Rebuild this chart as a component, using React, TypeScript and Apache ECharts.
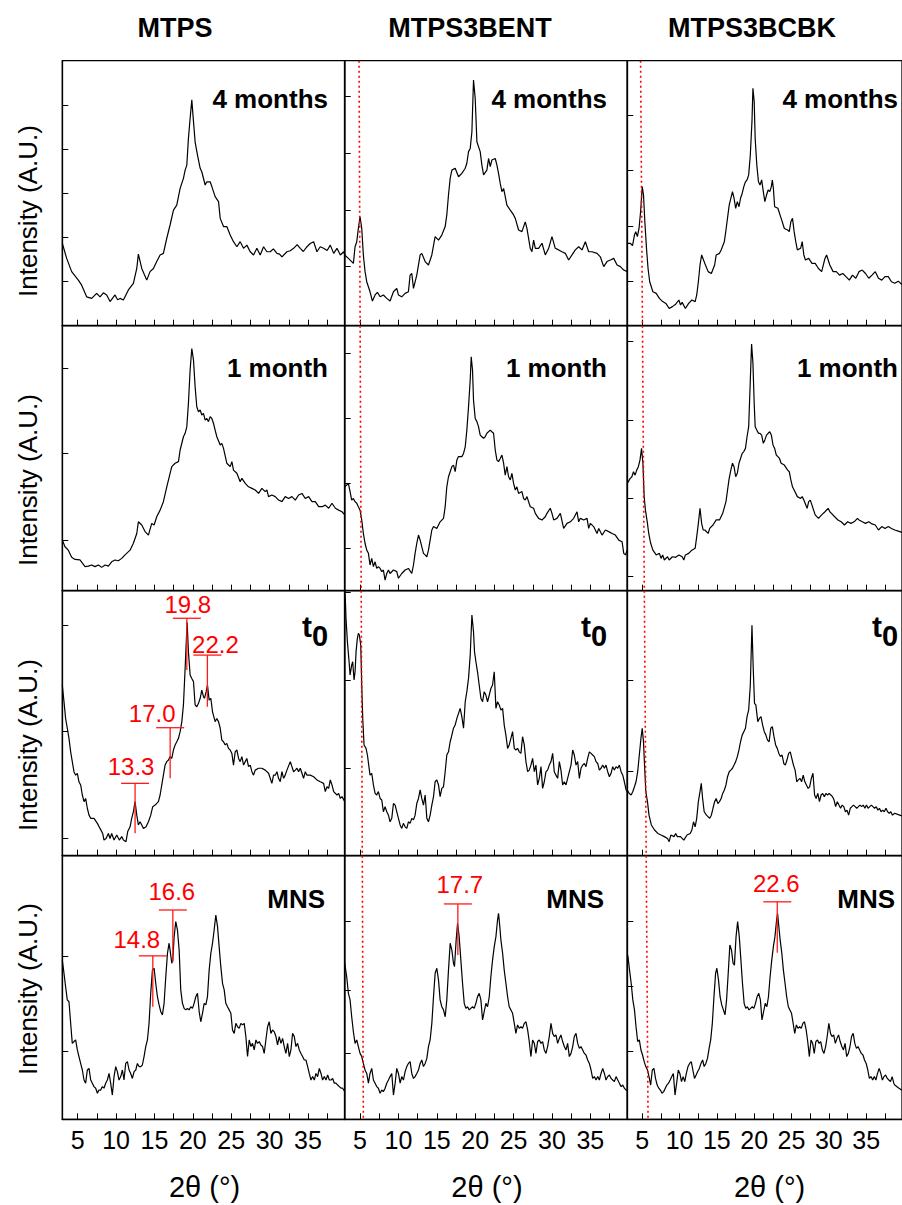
import React, { useEffect, useRef } from "react";
import * as echarts from "echarts";

type Pt = [number, number];

// ---------- texts / ticks ----------
const columnTitles = ["MTPS", "MTPS3BENT", "MTPS3BCBK"];
const rowLabels = ["4 months", "1 month", "t0", "MNS"];
const yAxisTitle = "Intensity (A.U.)";
const xAxisTitle = "2θ (°)";
const xTickLabels = [5, 10, 15, 20, 25, 30, 35];
const xTickMarks = [5, 7.5, 10, 12.5, 15, 17.5, 20, 22.5, 25, 27.5, 30, 32.5, 35, 37.5];
const xMin = 3;
const xMax = 39.8;
const yMin = 0;
const yMax = 100;

// ---------- MTPS ----------
const mtps4m: Pt[] = [
  [3.0, 31.1], [3.57, 25.4], [4.22, 20.4], [5.09, 17.2], [5.52, 15.3], [6.17, 10.9], [6.83, 10.3], [7.48, 12.2], [7.91, 10.9], [8.35, 12.4], [8.78, 11.6], [9.22, 9.1], [9.87, 11.6], [10.2, 9.8], [10.52, 10.3], [10.96, 9.7], [11.61, 13.5], [12.26, 16.0], [12.7, 21.6], [12.91, 27.0], [13.35, 21.6], [14.0, 17.2], [14.43, 20.4], [14.87, 21.6], [15.3, 24.2], [15.74, 26.7], [16.17, 27.3], [16.61, 33.0], [17.04, 38.0], [17.48, 43.6], [17.91, 45.5], [18.35, 51.8], [18.78, 55.6], [19.0, 58.7], [19.22, 60.6], [19.43, 70.7], [19.65, 78.2], [19.87, 85.2], [20.09, 77.0], [20.3, 69.4], [20.61, 64.4], [20.96, 59.4], [21.17, 58.1], [21.61, 53.1], [21.83, 54.3], [22.26, 54.3], [22.48, 52.5], [22.91, 48.7], [23.35, 46.8], [23.57, 40.5], [24.0, 37.4], [24.43, 37.4], [24.87, 34.2], [25.3, 31.7], [25.74, 29.8], [26.17, 31.7], [26.61, 29.2], [27.04, 30.4], [27.48, 27.9], [27.91, 26.7], [28.35, 29.2], [28.78, 26.7], [29.22, 29.8], [29.65, 27.9], [30.09, 27.9], [30.5, 29.0], [30.96, 27.3], [31.3, 27.0], [31.61, 26.0], [32.26, 27.9], [32.7, 28.3], [33.13, 29.2], [33.6, 30.6], [34.0, 29.2], [34.4, 28.0], [34.87, 29.8], [35.3, 31.0], [35.74, 31.7], [36.17, 27.9], [36.6, 29.8], [37.04, 29.2], [37.5, 28.4], [37.91, 30.4], [38.35, 27.3], [38.78, 29.2], [39.22, 26.7], [39.65, 27.9], [39.8, 26.7],
];
const mtps1m: Pt[] = [
  [3.0, 19.1], [3.35, 16.6], [3.78, 15.3], [4.22, 12.6], [4.65, 11.8], [5.3, 11.6], [5.96, 9.1], [6.39, 9.3], [6.83, 9.7], [7.26, 9.1], [7.7, 9.7], [8.13, 8.8], [8.57, 9.7], [9.0, 9.3], [9.43, 10.9], [9.87, 11.6], [10.3, 11.3], [10.74, 12.2], [11.17, 13.5], [11.83, 15.3], [12.26, 17.9], [12.7, 21.6], [12.91, 26.0], [13.35, 24.8], [13.78, 22.3], [14.22, 21.0], [14.65, 25.4], [14.96, 24.8], [15.3, 27.9], [15.74, 30.4], [16.17, 33.6], [16.61, 39.2], [17.04, 44.3], [17.26, 46.8], [17.7, 48.1], [18.13, 48.7], [18.35, 53.1], [18.78, 58.1], [19.0, 59.4], [19.22, 61.9], [19.43, 70.7], [19.65, 83.3], [19.87, 91.4], [20.09, 87.0], [20.3, 77.0], [20.52, 69.4], [20.74, 67.5], [20.96, 68.2], [21.17, 66.3], [21.39, 66.9], [21.61, 64.4], [21.83, 65.0], [22.04, 63.8], [22.26, 65.7], [22.48, 65.0], [22.7, 63.1], [22.91, 60.6], [23.13, 58.1], [23.57, 55.0], [23.78, 55.6], [24.0, 53.7], [24.43, 48.1], [24.87, 46.8], [25.09, 48.7], [25.3, 45.5], [25.74, 44.3], [26.17, 41.1], [26.39, 42.4], [26.83, 40.5], [27.26, 39.2], [27.7, 38.6], [28.13, 38.0], [28.57, 36.7], [29.0, 38.6], [29.43, 37.4], [29.65, 38.0], [29.87, 35.5], [30.3, 36.1], [30.74, 35.5], [31.17, 34.2], [31.61, 33.6], [32.04, 35.5], [32.48, 34.8], [32.91, 35.5], [33.35, 34.2], [33.78, 36.1], [34.22, 36.7], [34.65, 34.8], [35.09, 35.5], [35.52, 33.6], [35.96, 33.6], [36.39, 31.7], [36.83, 31.7], [37.26, 32.3], [37.7, 31.1], [38.13, 33.0], [38.57, 31.1], [39.0, 30.4], [39.43, 29.8], [39.8, 28.6],
];
const mtpsT0: Pt[] = [
  [3.0, 64.4], [3.22, 58.1], [3.43, 51.8], [3.65, 48.1], [3.87, 44.3], [4.09, 39.2], [4.3, 35.5], [4.52, 31.7], [4.74, 30.4], [4.96, 31.1], [5.17, 27.9], [5.39, 26.7], [5.61, 22.9], [5.83, 20.4], [6.04, 21.6], [6.26, 17.9], [6.48, 15.3], [6.7, 14.1], [7.13, 14.1], [7.57, 12.2], [7.91, 10.3], [8.26, 8.4], [8.43, 5.9], [8.7, 6.5], [9.0, 8.4], [9.22, 6.5], [9.43, 8.4], [9.74, 5.9], [10.09, 7.8], [10.43, 5.9], [10.74, 7.2], [10.96, 5.9], [11.3, 5.3], [11.52, 9.1], [11.83, 10.9], [12.04, 14.1], [12.26, 16.6], [12.48, 20.4], [12.7, 15.3], [12.91, 11.6], [13.13, 12.8], [13.35, 11.6], [13.57, 10.3], [13.91, 10.9], [14.22, 12.8], [14.52, 15.3], [14.78, 18.5], [15.09, 19.1], [15.52, 20.4], [15.74, 22.9], [15.96, 26.7], [16.17, 30.4], [16.39, 34.2], [16.61, 35.5], [16.83, 36.1], [17.04, 37.4], [17.26, 36.7], [17.48, 39.9], [17.7, 41.8], [17.91, 43.0], [18.13, 44.3], [18.35, 46.8], [18.57, 50.6], [18.78, 56.9], [19.0, 70.7], [19.13, 79.5], [19.26, 88.1], [19.43, 77.0], [19.65, 68.2], [19.87, 66.9], [20.09, 65.7], [20.3, 56.9], [20.52, 56.2], [20.74, 57.5], [20.96, 59.4], [21.17, 62.5], [21.39, 60.0], [21.52, 59.4], [21.74, 61.9], [21.91, 64.4], [22.13, 58.7], [22.35, 59.4], [22.57, 54.3], [22.91, 50.6], [23.13, 51.8], [23.35, 50.6], [23.57, 48.1], [23.78, 43.6], [24.0, 43.0], [24.22, 41.8], [24.43, 42.4], [24.65, 40.5], [24.87, 39.9], [25.09, 38.6], [25.3, 34.2], [25.52, 39.2], [25.74, 39.9], [25.96, 36.7], [26.17, 35.5], [26.39, 37.4], [26.61, 34.2], [26.83, 35.5], [27.04, 36.7], [27.26, 33.6], [27.48, 34.2], [27.7, 31.7], [27.91, 30.4], [28.13, 32.3], [28.57, 33.0], [29.0, 33.0], [29.43, 32.3], [29.87, 31.1], [30.3, 27.3], [30.52, 30.4], [30.74, 30.4], [30.96, 31.7], [31.17, 29.2], [31.39, 27.9], [31.61, 31.7], [31.83, 29.2], [32.04, 30.4], [32.26, 32.3], [32.7, 35.5], [32.91, 33.6], [33.13, 31.7], [33.35, 32.3], [33.57, 33.0], [33.78, 31.7], [34.0, 33.0], [34.22, 31.1], [34.43, 29.2], [34.65, 31.7], [34.87, 30.4], [35.3, 30.4], [35.74, 29.8], [36.17, 28.6], [36.61, 27.9], [37.04, 27.3], [37.26, 24.2], [37.48, 26.0], [37.7, 25.4], [37.91, 28.6], [38.13, 26.7], [38.35, 24.2], [38.78, 22.9], [39.0, 23.5], [39.22, 21.6], [39.43, 22.3], [39.8, 20.4],
];
const mtpsMns: Pt[] = [
  [3.0, 60.4], [3.22, 55.4], [3.43, 50.3], [3.65, 45.3], [3.87, 44.6], [4.09, 36.4], [4.3, 28.8], [4.52, 29.5], [4.74, 30.1], [4.96, 26.3], [5.17, 23.8], [5.39, 21.2], [5.61, 18.7], [5.83, 14.9], [6.04, 13.7], [6.26, 18.7], [6.48, 19.3], [6.7, 14.9], [6.91, 13.7], [7.13, 12.4], [7.35, 11.8], [7.57, 9.9], [7.78, 11.1], [8.0, 11.1], [8.22, 12.4], [8.43, 11.8], [8.65, 13.7], [8.87, 14.9], [9.09, 17.4], [9.3, 13.7], [9.52, 9.2], [9.74, 16.2], [9.96, 20.0], [10.17, 18.1], [10.39, 14.9], [10.61, 16.2], [10.83, 18.7], [11.04, 14.9], [11.26, 21.2], [11.48, 21.9], [11.7, 18.7], [11.91, 17.4], [12.13, 15.5], [12.35, 18.1], [12.57, 18.7], [12.78, 21.2], [13.0, 20.0], [13.22, 20.0], [13.43, 20.6], [13.65, 23.8], [13.87, 27.6], [14.09, 30.1], [14.3, 36.4], [14.52, 47.8], [14.74, 56.6], [14.96, 57.3], [15.17, 51.6], [15.39, 46.5], [15.61, 43.4], [15.83, 40.8], [16.04, 39.6], [16.26, 44.0], [16.48, 54.1], [16.7, 63.0], [16.91, 66.8], [17.04, 64.2], [17.26, 59.2], [17.39, 60.4], [17.57, 69.3], [17.78, 75.0], [18.0, 71.8], [18.22, 64.2], [18.43, 49.1], [18.65, 44.0], [18.87, 42.1], [19.09, 41.5], [19.3, 42.1], [19.52, 41.5], [19.74, 42.7], [19.96, 42.1], [20.17, 44.0], [20.39, 46.5], [20.61, 47.8], [20.83, 40.8], [21.04, 37.0], [21.26, 40.2], [21.48, 44.0], [21.7, 43.4], [21.91, 46.5], [22.13, 56.6], [22.35, 63.0], [22.57, 66.8], [22.78, 71.8], [23.0, 77.5], [23.22, 73.1], [23.43, 65.5], [23.65, 57.9], [23.87, 51.6], [24.09, 49.1], [24.3, 44.0], [24.52, 42.7], [24.74, 41.5], [24.96, 40.2], [25.17, 33.9], [25.39, 32.6], [25.61, 36.4], [25.83, 35.1], [26.04, 34.5], [26.26, 36.4], [26.48, 35.8], [26.7, 36.4], [26.91, 31.4], [27.13, 23.8], [27.35, 30.1], [27.57, 27.6], [27.78, 28.8], [28.0, 26.3], [28.22, 30.1], [28.43, 28.8], [28.65, 29.5], [28.87, 28.2], [29.09, 27.6], [29.3, 25.0], [29.52, 30.1], [29.74, 35.1], [29.96, 37.0], [30.17, 32.6], [30.39, 33.9], [30.61, 33.2], [30.83, 31.4], [31.04, 28.2], [31.26, 31.4], [31.48, 28.8], [31.7, 30.7], [31.91, 27.6], [32.13, 25.0], [32.35, 28.8], [32.57, 23.8], [32.78, 26.3], [33.0, 32.6], [33.22, 31.4], [33.43, 27.6], [33.65, 28.8], [33.87, 26.3], [34.09, 25.0], [34.3, 23.8], [34.52, 22.5], [34.74, 22.5], [34.96, 20.0], [35.17, 17.4], [35.39, 14.9], [35.61, 16.2], [35.83, 14.9], [36.04, 17.4], [36.26, 16.2], [36.48, 19.3], [36.7, 17.4], [36.91, 14.9], [37.13, 16.2], [37.35, 14.9], [37.57, 16.8], [37.78, 14.9], [38.0, 14.9], [38.22, 15.5], [38.43, 13.7], [38.65, 13.7], [38.87, 13.0], [39.09, 12.4], [39.3, 11.8], [39.52, 11.8], [39.8, 10.5],
];

// ---------- MTPS3BENT ----------
const bent4m: Pt[] = [
  [3.0, 26.7], [3.48, 25.4], [3.91, 24.2], [4.13, 23.5], [4.35, 29.8], [4.57, 31.7], [4.78, 36.7], [5.0, 41.1], [5.22, 36.7], [5.43, 26.7], [5.65, 20.4], [5.87, 16.6], [6.3, 12.8], [6.61, 9.3], [6.96, 11.6], [7.26, 12.6], [7.61, 10.9], [8.04, 11.6], [8.48, 10.3], [8.91, 9.3], [9.35, 12.8], [9.78, 14.1], [10.0, 11.6], [10.43, 10.9], [10.87, 12.2], [11.3, 12.8], [11.52, 19.1], [11.74, 19.7], [11.96, 14.1], [12.39, 19.1], [12.83, 26.7], [13.04, 27.3], [13.48, 24.2], [13.91, 22.9], [14.35, 26.7], [14.78, 33.6], [15.22, 32.3], [15.65, 34.2], [16.09, 37.4], [16.3, 41.8], [16.52, 49.3], [16.74, 55.6], [16.96, 58.7], [17.39, 59.4], [17.83, 56.2], [18.26, 57.5], [18.7, 59.4], [18.91, 61.3], [19.13, 65.7], [19.35, 66.9], [19.57, 73.2], [19.78, 92.7], [20.0, 85.8], [20.22, 69.4], [20.65, 65.7], [20.87, 60.6], [21.09, 56.9], [21.52, 58.7], [21.74, 63.1], [21.96, 60.0], [22.17, 62.5], [22.61, 63.1], [22.83, 60.6], [23.04, 57.5], [23.26, 53.7], [23.48, 50.6], [23.7, 51.8], [24.13, 45.5], [24.57, 43.6], [25.0, 41.8], [25.22, 40.5], [25.65, 36.1], [26.09, 35.5], [26.52, 39.2], [26.74, 36.7], [27.17, 29.2], [27.39, 27.9], [27.61, 32.3], [27.83, 29.2], [28.26, 29.2], [28.7, 31.1], [29.13, 26.7], [29.57, 29.2], [30.0, 33.6], [30.43, 29.2], [30.87, 28.6], [31.3, 27.9], [31.74, 27.3], [32.17, 24.8], [32.61, 26.7], [33.04, 28.6], [33.48, 29.8], [33.91, 28.6], [34.35, 31.7], [34.78, 27.9], [35.22, 27.9], [35.87, 27.3], [36.3, 26.0], [36.74, 22.3], [37.17, 24.2], [37.61, 24.8], [38.04, 25.4], [38.48, 22.9], [38.91, 22.3], [39.35, 21.0], [39.8, 20.4],
];
const bent1m: Pt[] = [
  [3.0, 39.2], [3.26, 39.9], [3.48, 40.5], [3.7, 37.4], [3.91, 34.2], [4.13, 34.8], [4.35, 33.6], [4.57, 33.0], [4.78, 31.7], [5.0, 30.4], [5.22, 26.7], [5.43, 21.6], [5.65, 17.9], [5.87, 15.3], [6.09, 14.1], [6.3, 9.7], [6.52, 12.2], [6.74, 9.1], [6.96, 10.9], [7.17, 8.4], [7.39, 9.1], [7.61, 8.4], [7.83, 7.2], [8.04, 7.8], [8.26, 4.0], [8.48, 6.5], [8.7, 7.8], [8.91, 6.5], [9.35, 7.8], [9.78, 7.2], [10.0, 4.7], [10.43, 6.5], [10.87, 7.8], [11.3, 8.4], [11.74, 6.5], [11.96, 9.7], [12.17, 14.1], [12.39, 17.9], [12.61, 21.0], [12.83, 19.1], [13.04, 16.6], [13.26, 14.1], [13.48, 13.5], [13.7, 12.8], [13.91, 15.3], [14.13, 19.1], [14.35, 22.9], [14.57, 24.2], [15.0, 23.5], [15.43, 26.0], [15.87, 27.3], [16.09, 31.7], [16.3, 39.2], [16.52, 43.0], [16.74, 44.9], [16.96, 46.8], [17.17, 47.4], [17.39, 44.9], [17.61, 49.3], [17.83, 50.6], [18.26, 50.6], [18.48, 51.8], [18.7, 54.3], [18.91, 60.6], [19.13, 69.4], [19.35, 79.5], [19.48, 88.3], [19.65, 83.3], [19.78, 71.9], [20.0, 65.0], [20.22, 63.8], [20.43, 61.9], [20.65, 58.7], [20.87, 58.1], [21.09, 57.5], [21.3, 58.1], [21.52, 59.4], [21.96, 60.6], [22.17, 60.0], [22.39, 59.4], [22.61, 53.1], [22.83, 49.3], [23.04, 48.7], [23.26, 49.9], [23.48, 51.2], [23.7, 48.1], [23.91, 43.6], [24.13, 46.8], [24.35, 43.0], [24.57, 41.8], [24.78, 44.3], [25.0, 40.5], [25.22, 38.0], [25.43, 39.2], [25.65, 36.7], [26.09, 37.4], [26.3, 34.8], [26.52, 34.2], [26.74, 35.5], [27.17, 31.7], [27.61, 31.1], [27.83, 29.2], [28.26, 27.3], [28.7, 26.7], [29.13, 27.9], [29.35, 29.2], [29.78, 31.1], [30.0, 29.2], [30.22, 26.7], [30.65, 27.3], [31.09, 29.2], [31.52, 23.5], [31.96, 25.4], [32.39, 26.0], [32.83, 27.3], [33.26, 29.8], [33.48, 26.0], [33.7, 27.3], [34.13, 26.7], [34.57, 27.3], [34.78, 23.5], [35.0, 25.4], [35.43, 24.2], [35.87, 21.6], [36.09, 23.5], [36.52, 21.0], [36.96, 22.9], [37.39, 22.3], [37.83, 21.6], [38.26, 21.0], [38.7, 19.1], [39.13, 18.5], [39.35, 14.1], [39.57, 13.5], [39.8, 15.3],
];
const bentT0: Pt[] = [
  [3.0, 99.0], [3.08, 97.1], [3.17, 89.6], [3.35, 80.8], [3.57, 73.2], [3.7, 68.2], [3.91, 71.9], [4.04, 73.2], [4.22, 66.3], [4.35, 69.4], [4.48, 77.0], [4.65, 82.0], [4.78, 83.9], [4.91, 83.3], [5.09, 79.5], [5.22, 64.4], [5.35, 51.8], [5.52, 41.8], [5.78, 40.5], [5.96, 38.0], [6.13, 34.2], [6.3, 30.4], [6.52, 31.1], [6.74, 26.7], [6.96, 23.5], [7.17, 22.9], [7.39, 24.2], [7.61, 21.6], [7.83, 21.0], [8.04, 16.6], [8.26, 18.5], [8.48, 16.6], [8.7, 15.3], [8.91, 12.8], [9.13, 14.1], [9.35, 19.7], [9.57, 19.1], [9.78, 16.6], [10.0, 14.1], [10.22, 11.6], [10.43, 10.3], [10.65, 12.2], [10.87, 10.9], [11.09, 10.3], [11.3, 12.8], [11.52, 12.2], [11.74, 14.1], [11.96, 13.5], [12.17, 15.3], [12.39, 19.7], [12.61, 21.6], [12.83, 24.8], [13.04, 21.6], [13.26, 19.1], [13.48, 22.9], [13.7, 14.1], [13.91, 12.8], [14.13, 15.3], [14.35, 19.1], [14.57, 22.3], [14.78, 27.9], [15.0, 28.6], [15.22, 26.7], [15.43, 22.3], [15.65, 25.4], [15.87, 26.0], [16.09, 31.7], [16.3, 38.0], [16.52, 39.2], [16.74, 43.0], [16.96, 45.5], [17.17, 48.1], [17.39, 49.3], [17.61, 51.8], [17.83, 53.7], [18.04, 55.6], [18.26, 52.5], [18.48, 48.1], [18.7, 58.1], [18.91, 61.9], [19.13, 66.9], [19.35, 75.7], [19.57, 90.8], [19.78, 84.5], [19.91, 77.0], [20.09, 73.2], [20.3, 69.4], [20.52, 64.4], [20.74, 59.4], [20.96, 58.1], [21.17, 61.9], [21.39, 60.6], [21.61, 58.1], [21.83, 60.6], [22.04, 63.1], [22.26, 64.4], [22.48, 69.4], [22.7, 55.6], [22.91, 58.1], [23.13, 56.9], [23.35, 55.0], [23.57, 55.6], [23.78, 49.3], [24.0, 45.5], [24.22, 40.5], [24.43, 41.8], [24.65, 44.3], [24.87, 46.8], [25.09, 40.5], [25.3, 39.9], [25.52, 40.5], [25.74, 39.2], [25.96, 38.6], [26.17, 44.9], [26.39, 41.8], [26.61, 35.5], [26.83, 31.7], [27.04, 32.3], [27.26, 34.2], [27.48, 36.7], [27.7, 31.7], [27.91, 34.2], [28.13, 26.7], [28.35, 29.2], [28.57, 33.6], [28.78, 25.4], [29.0, 27.9], [29.22, 31.7], [29.43, 32.3], [29.65, 34.2], [29.87, 35.5], [30.09, 38.6], [30.3, 31.7], [30.52, 30.4], [30.74, 29.2], [30.96, 35.5], [31.17, 32.3], [31.39, 26.7], [31.61, 27.9], [31.83, 26.7], [32.04, 29.2], [32.26, 31.7], [32.48, 34.2], [32.7, 39.9], [32.91, 38.0], [33.13, 34.2], [33.35, 35.5], [33.57, 29.2], [33.78, 33.0], [34.0, 34.2], [34.22, 34.8], [34.43, 33.6], [34.65, 36.7], [34.87, 39.2], [35.09, 38.6], [35.3, 38.0], [35.52, 37.4], [35.74, 35.5], [35.96, 34.8], [36.17, 32.3], [36.39, 33.0], [36.61, 34.2], [36.83, 33.0], [37.04, 34.2], [37.26, 31.7], [37.48, 29.8], [37.7, 31.1], [37.91, 33.6], [38.13, 32.3], [38.35, 33.6], [38.57, 33.0], [38.78, 34.2], [39.0, 31.7], [39.22, 30.4], [39.43, 27.9], [39.65, 24.8], [39.8, 24.2],
];
const bentMns: Pt[] = [
  [3.0, 59.2], [3.26, 54.1], [3.48, 47.8], [3.7, 45.3], [3.91, 38.9], [4.13, 33.2], [4.35, 28.8], [4.57, 30.1], [4.78, 27.6], [5.0, 25.0], [5.22, 23.8], [5.43, 21.2], [5.65, 18.7], [5.87, 17.4], [6.09, 13.7], [6.3, 17.4], [6.52, 19.3], [6.74, 14.9], [6.96, 13.7], [7.17, 12.4], [7.39, 11.8], [7.61, 9.9], [7.83, 11.1], [8.04, 10.5], [8.26, 11.8], [8.48, 13.7], [8.7, 14.9], [8.91, 16.2], [9.13, 17.4], [9.35, 9.2], [9.57, 13.7], [9.78, 19.3], [10.0, 17.4], [10.22, 13.7], [10.43, 16.2], [10.65, 14.9], [10.87, 18.1], [11.09, 20.0], [11.3, 21.2], [11.52, 21.9], [11.74, 17.4], [11.96, 15.5], [12.17, 16.2], [12.39, 17.4], [12.61, 18.7], [12.83, 21.2], [13.04, 22.5], [13.26, 20.0], [13.48, 21.2], [13.7, 23.1], [13.91, 27.6], [14.13, 30.1], [14.35, 36.4], [14.57, 46.5], [14.78, 55.4], [15.0, 57.3], [15.22, 52.8], [15.43, 45.3], [15.65, 42.7], [15.87, 41.5], [16.09, 38.9], [16.3, 45.3], [16.52, 56.6], [16.74, 66.8], [16.96, 64.2], [17.17, 59.2], [17.3, 57.9], [17.52, 68.0], [17.7, 74.3], [17.91, 69.3], [18.13, 60.4], [18.35, 51.6], [18.57, 44.0], [18.78, 42.1], [19.0, 42.7], [19.22, 41.5], [19.43, 42.1], [19.65, 42.7], [19.87, 42.1], [20.09, 44.0], [20.3, 46.5], [20.52, 47.8], [20.74, 45.3], [20.96, 37.7], [21.17, 40.8], [21.39, 44.0], [21.61, 42.7], [21.83, 46.5], [22.04, 54.1], [22.26, 60.4], [22.48, 65.5], [22.7, 69.3], [22.91, 75.6], [23.04, 78.1], [23.17, 74.3], [23.35, 68.0], [23.57, 63.0], [23.78, 56.6], [24.0, 51.6], [24.22, 46.5], [24.43, 42.7], [24.65, 41.5], [24.87, 40.2], [25.09, 36.4], [25.3, 32.6], [25.52, 35.8], [25.74, 34.5], [25.96, 35.1], [26.17, 34.5], [26.39, 36.4], [26.61, 37.0], [26.83, 33.9], [27.04, 29.5], [27.26, 23.8], [27.48, 30.1], [27.7, 28.8], [27.91, 25.0], [28.13, 29.5], [28.35, 30.1], [28.57, 28.8], [28.78, 29.5], [29.0, 26.3], [29.22, 25.0], [29.43, 27.6], [29.65, 31.4], [29.87, 36.4], [30.09, 32.6], [30.3, 31.4], [30.52, 32.0], [30.74, 28.8], [30.96, 30.7], [31.17, 32.0], [31.39, 29.5], [31.61, 27.6], [31.83, 26.3], [32.04, 28.8], [32.26, 23.8], [32.48, 25.0], [32.7, 27.6], [32.91, 31.4], [33.13, 32.6], [33.35, 28.8], [33.57, 26.9], [33.78, 27.6], [34.0, 26.3], [34.22, 25.0], [34.43, 24.4], [34.65, 22.5], [34.87, 21.2], [35.09, 18.7], [35.3, 15.5], [35.52, 16.2], [35.74, 14.9], [35.96, 16.2], [36.17, 14.9], [36.39, 17.4], [36.61, 19.3], [36.83, 17.4], [37.04, 14.9], [37.26, 16.2], [37.48, 16.8], [37.7, 15.5], [37.91, 14.9], [38.13, 14.3], [38.35, 16.2], [38.57, 14.9], [38.78, 13.7], [39.0, 12.4], [39.22, 13.0], [39.43, 11.8], [39.65, 11.1], [39.8, 11.1],
];

// ---------- MTPS3BCBK ----------
const bcbk4m: Pt[] = [
  [3.0, 31.1], [3.39, 31.1], [3.7, 30.2], [3.96, 34.2], [4.13, 35.5], [4.35, 33.6], [4.57, 36.7], [4.78, 43.0], [5.0, 52.5], [5.17, 49.3], [5.35, 39.2], [5.57, 29.2], [5.78, 21.6], [6.0, 16.6], [6.43, 12.8], [6.87, 12.2], [7.3, 10.3], [7.74, 9.1], [8.17, 8.4], [8.61, 6.5], [9.04, 7.2], [9.48, 8.1], [9.91, 9.7], [10.13, 7.8], [10.35, 8.8], [10.78, 6.5], [11.22, 8.4], [11.65, 9.7], [12.09, 9.1], [12.3, 11.6], [12.52, 16.6], [12.74, 22.9], [12.96, 26.7], [13.39, 23.5], [13.83, 20.4], [14.26, 19.7], [14.7, 22.9], [14.91, 26.7], [15.35, 27.3], [15.57, 28.6], [16.0, 31.7], [16.22, 36.1], [16.65, 45.5], [17.09, 50.6], [17.3, 48.1], [17.52, 44.3], [17.74, 46.8], [17.96, 44.9], [18.17, 48.1], [18.39, 49.9], [18.61, 52.5], [18.83, 54.3], [19.04, 55.0], [19.26, 56.9], [19.48, 64.4], [19.7, 77.0], [19.83, 89.6], [20.0, 84.5], [20.13, 70.7], [20.35, 60.6], [20.57, 54.3], [20.78, 53.1], [21.0, 55.0], [21.22, 50.6], [21.43, 46.8], [21.65, 49.3], [21.87, 51.2], [22.09, 50.6], [22.3, 52.5], [22.43, 55.0], [22.57, 51.8], [22.74, 44.9], [23.17, 44.3], [23.61, 40.5], [24.04, 36.7], [24.48, 36.1], [24.7, 35.5], [24.91, 39.2], [25.13, 40.5], [25.35, 35.5], [25.57, 31.7], [25.78, 28.6], [26.22, 29.2], [26.43, 31.7], [26.65, 26.7], [26.87, 24.8], [27.3, 25.4], [27.74, 23.5], [28.17, 23.5], [28.61, 21.6], [29.04, 20.4], [29.48, 25.4], [29.7, 26.7], [30.13, 22.9], [30.57, 20.4], [31.0, 20.4], [31.43, 19.1], [31.87, 19.7], [32.3, 18.5], [32.74, 17.2], [33.17, 19.1], [33.61, 17.9], [34.04, 20.4], [34.48, 21.0], [34.91, 19.7], [35.35, 17.9], [35.78, 19.1], [36.22, 20.4], [36.65, 17.9], [37.09, 17.2], [37.52, 18.5], [37.96, 18.5], [38.39, 16.6], [38.83, 16.0], [39.3, 16.8], [39.8, 15.5],
];
const bcbk1m: Pt[] = [
  [3.0, 40.5], [3.09, 40.5], [3.39, 42.4], [3.61, 43.0], [3.83, 44.9], [4.04, 43.6], [4.26, 45.5], [4.48, 46.8], [4.7, 49.3], [4.91, 53.7], [5.09, 48.1], [5.26, 35.5], [5.43, 30.4], [5.7, 25.4], [5.87, 21.6], [6.13, 17.9], [6.43, 15.3], [6.87, 13.5], [7.3, 14.1], [7.52, 12.2], [7.74, 13.5], [7.96, 11.6], [8.39, 12.8], [8.61, 11.6], [9.04, 12.8], [9.48, 12.6], [9.91, 13.5], [10.35, 12.8], [10.57, 11.6], [10.78, 13.5], [11.22, 14.1], [11.65, 15.3], [12.09, 16.0], [12.3, 20.4], [12.52, 25.4], [12.74, 31.1], [12.96, 25.4], [13.17, 22.9], [13.39, 22.9], [13.83, 21.6], [14.04, 23.5], [14.48, 24.8], [14.91, 26.7], [15.35, 26.7], [15.78, 29.2], [16.22, 33.6], [16.43, 38.0], [16.65, 42.4], [16.87, 45.5], [17.09, 48.1], [17.3, 46.8], [17.52, 43.0], [17.74, 44.3], [17.96, 48.1], [18.17, 49.9], [18.39, 51.8], [18.61, 52.5], [18.83, 53.7], [19.04, 58.1], [19.26, 61.9], [19.48, 79.5], [19.65, 93.1], [19.83, 85.8], [20.0, 70.7], [20.13, 61.9], [20.35, 60.6], [20.57, 59.4], [20.78, 59.4], [21.0, 58.7], [21.22, 55.6], [21.43, 56.9], [21.65, 58.7], [21.87, 59.4], [22.09, 60.0], [22.3, 58.7], [22.52, 55.0], [22.74, 53.7], [22.96, 51.2], [23.17, 50.6], [23.39, 49.9], [23.61, 48.1], [24.04, 47.4], [24.48, 45.5], [24.7, 44.9], [24.91, 41.8], [25.13, 39.2], [25.35, 38.0], [25.78, 35.5], [26.22, 34.8], [26.43, 35.5], [26.65, 34.2], [27.09, 31.1], [27.3, 33.6], [27.52, 34.2], [27.74, 32.3], [28.17, 28.6], [28.61, 27.3], [29.04, 28.6], [29.48, 29.8], [29.91, 31.1], [30.13, 29.8], [30.35, 29.2], [30.78, 27.9], [31.22, 26.7], [31.65, 26.0], [32.09, 24.8], [32.52, 26.0], [32.96, 25.4], [33.39, 26.0], [33.83, 27.3], [34.04, 26.7], [34.48, 26.0], [34.91, 25.4], [35.35, 26.0], [35.78, 25.2], [36.22, 24.8], [36.65, 22.9], [37.09, 24.2], [37.52, 23.5], [37.96, 24.2], [38.39, 23.5], [38.83, 22.9], [39.3, 22.5], [39.8, 22.0],
];
const bcbkT0: Pt[] = [
  [3.0, 24.8], [3.09, 24.8], [3.26, 23.5], [3.52, 22.9], [3.74, 24.2], [3.96, 26.0], [4.17, 27.9], [4.39, 31.7], [4.61, 38.0], [4.83, 44.3], [5.0, 48.1], [5.17, 43.0], [5.35, 31.7], [5.48, 24.2], [5.7, 20.4], [5.91, 15.3], [6.22, 11.6], [6.65, 9.7], [7.09, 8.4], [7.52, 7.8], [7.96, 7.2], [8.39, 6.5], [8.61, 5.3], [8.83, 7.8], [9.26, 7.2], [9.48, 8.4], [9.7, 7.2], [10.13, 7.2], [10.57, 5.9], [11.0, 7.8], [11.43, 8.4], [11.65, 9.7], [11.87, 12.8], [12.09, 10.9], [12.3, 14.1], [12.52, 20.4], [12.74, 24.2], [12.91, 27.3], [13.09, 21.6], [13.3, 16.6], [13.61, 15.3], [14.04, 14.1], [14.26, 15.3], [14.48, 17.9], [14.7, 20.4], [14.91, 21.6], [15.13, 19.7], [15.35, 20.4], [15.57, 21.6], [15.78, 23.5], [16.0, 24.8], [16.22, 26.7], [16.43, 29.8], [16.65, 31.7], [16.87, 32.3], [17.09, 33.0], [17.3, 34.2], [17.52, 35.5], [17.74, 37.4], [17.96, 39.9], [18.17, 43.0], [18.39, 45.5], [18.61, 46.8], [18.83, 48.1], [19.04, 52.5], [19.26, 55.0], [19.48, 64.4], [19.7, 87.0], [19.87, 70.7], [20.04, 57.5], [20.22, 56.9], [20.48, 50.6], [20.7, 51.8], [20.91, 52.5], [21.13, 49.3], [21.35, 46.8], [21.57, 45.5], [21.78, 43.6], [22.0, 43.0], [22.22, 48.1], [22.43, 48.7], [22.65, 44.9], [22.87, 41.8], [23.09, 40.5], [23.3, 38.6], [23.52, 37.4], [23.74, 38.0], [23.96, 34.8], [24.17, 34.2], [24.39, 36.1], [24.61, 38.6], [24.83, 39.2], [25.04, 36.7], [25.26, 34.2], [25.48, 32.3], [25.7, 27.9], [25.91, 28.6], [26.13, 29.2], [26.35, 27.9], [26.57, 30.4], [26.78, 27.9], [27.0, 26.7], [27.22, 25.4], [27.43, 26.0], [27.65, 29.2], [27.87, 31.1], [28.09, 22.9], [28.3, 21.6], [28.52, 23.5], [28.74, 20.4], [28.96, 22.9], [29.17, 23.5], [29.39, 22.3], [29.61, 23.5], [29.83, 22.9], [30.04, 23.5], [30.26, 22.9], [30.48, 22.3], [30.7, 21.0], [30.91, 18.5], [31.13, 20.4], [31.35, 19.1], [31.57, 17.9], [31.78, 19.1], [32.0, 18.5], [32.22, 16.6], [32.43, 17.2], [32.65, 15.3], [32.87, 17.9], [33.09, 18.5], [33.3, 19.1], [33.52, 18.5], [33.74, 17.9], [33.96, 18.5], [34.17, 19.1], [34.39, 18.5], [34.61, 19.1], [34.83, 17.9], [35.04, 19.1], [35.26, 17.9], [35.48, 18.5], [35.7, 19.1], [35.91, 18.5], [36.13, 17.9], [36.35, 18.5], [36.57, 17.2], [36.78, 17.9], [37.0, 16.6], [37.22, 17.2], [37.43, 16.6], [37.65, 17.9], [37.87, 16.6], [38.09, 16.0], [38.3, 16.6], [38.52, 15.3], [38.83, 16.0], [39.3, 15.5], [39.8, 15.0],
];
const bcbkMns: Pt[] = [
  [3.0, 62.5], [3.09, 61.7], [3.3, 56.6], [3.52, 51.6], [3.74, 45.3], [3.96, 41.5], [4.17, 35.1], [4.39, 29.5], [4.61, 30.1], [4.83, 26.3], [5.04, 24.4], [5.26, 21.9], [5.48, 20.0], [5.7, 18.7], [5.91, 16.2], [6.13, 13.0], [6.35, 18.7], [6.57, 19.3], [6.78, 15.5], [7.0, 13.0], [7.22, 11.8], [7.43, 11.1], [7.65, 9.9], [7.87, 10.5], [8.09, 11.8], [8.3, 13.0], [8.52, 13.7], [8.74, 14.9], [8.96, 16.2], [9.17, 17.4], [9.39, 9.2], [9.61, 13.7], [9.83, 18.7], [10.04, 17.4], [10.26, 14.3], [10.48, 16.2], [10.7, 14.3], [10.91, 17.4], [11.13, 20.0], [11.35, 21.2], [11.57, 21.9], [11.78, 18.7], [12.0, 15.5], [12.22, 16.8], [12.43, 18.1], [12.65, 19.3], [12.87, 21.2], [13.09, 22.5], [13.3, 20.0], [13.52, 21.2], [13.74, 23.1], [13.96, 26.9], [14.17, 30.1], [14.39, 36.4], [14.61, 46.5], [14.83, 55.4], [15.0, 57.3], [15.22, 52.8], [15.43, 46.5], [15.65, 43.4], [15.87, 41.5], [16.09, 39.6], [16.3, 45.3], [16.52, 55.4], [16.74, 66.1], [16.96, 64.2], [17.17, 59.2], [17.35, 58.5], [17.57, 69.3], [17.78, 75.0], [18.0, 69.3], [18.22, 60.4], [18.43, 51.6], [18.65, 44.0], [18.87, 42.1], [19.09, 42.7], [19.3, 41.5], [19.52, 42.1], [19.74, 42.7], [19.96, 42.1], [20.17, 44.0], [20.39, 46.5], [20.61, 47.8], [20.83, 45.3], [21.04, 37.7], [21.26, 40.8], [21.48, 44.0], [21.7, 42.7], [21.91, 46.5], [22.13, 54.1], [22.35, 60.4], [22.57, 65.5], [22.78, 69.3], [23.0, 75.6], [23.13, 78.1], [23.26, 74.3], [23.48, 68.0], [23.7, 63.0], [23.91, 56.6], [24.13, 51.6], [24.35, 46.5], [24.57, 42.7], [24.78, 41.5], [25.0, 40.2], [25.22, 36.4], [25.43, 32.6], [25.65, 35.8], [25.87, 34.5], [26.09, 35.1], [26.3, 34.5], [26.52, 36.4], [26.74, 37.0], [26.96, 33.9], [27.17, 29.5], [27.39, 23.8], [27.61, 30.1], [27.83, 28.8], [28.04, 25.0], [28.26, 29.5], [28.48, 30.1], [28.7, 28.8], [28.91, 29.5], [29.13, 26.3], [29.35, 25.0], [29.57, 27.6], [29.78, 31.4], [30.0, 36.4], [30.22, 32.6], [30.43, 31.4], [30.65, 32.0], [30.87, 28.8], [31.09, 30.7], [31.3, 32.0], [31.52, 29.5], [31.74, 27.6], [31.96, 26.3], [32.17, 28.8], [32.39, 23.8], [32.61, 25.0], [32.83, 27.6], [33.04, 31.4], [33.26, 32.6], [33.48, 28.8], [33.7, 26.9], [33.91, 27.6], [34.13, 26.3], [34.35, 25.0], [34.57, 24.4], [34.78, 22.5], [35.0, 21.2], [35.22, 18.7], [35.43, 15.5], [35.65, 16.2], [35.87, 14.9], [36.09, 16.2], [36.3, 14.9], [36.52, 17.4], [36.74, 19.3], [36.96, 17.4], [37.17, 14.9], [37.39, 16.2], [37.61, 16.8], [37.83, 15.5], [38.04, 14.9], [38.26, 14.3], [38.48, 16.2], [38.7, 13.7], [38.83, 13.0], [39.3, 12.0], [39.8, 11.0],
];

const panelData: Pt[][][] = [
  [mtps4m, bent4m, bcbk4m],
  [mtps1m, bent1m, bcbk1m],
  [mtpsT0, bentT0, bcbkT0],
  [mtpsMns, bentMns, bcbkMns],
];

// unlabeled y tick positions (per row, per column)
const yTickValues: number[][][] = [
  [[16.6, 33.2, 49.9, 66.5, 83.3], [22.3, 43.6, 65.0, 86.4], [16.6, 37.4, 58.7, 79.5]],
  [[19.1, 51.8, 83.9], [16.0, 40.5, 65.0, 89.6], [5.3, 34.8, 64.4, 94.0]],
  [[6.5, 46.8, 87.0], [33.0, 66.3, 99.6], [31.7, 66.3]],
  [[25.7, 61.7], [25.0, 49.1, 75.0], [25.7, 50.3, 75.0]],
];

// red peak annotations (x, bar level, line bottom in data units)
const peakMarks = [
  { row: 2, col: 0, x: 12.48, top: 27.3, bottom: 8.5, label: "13.3", dx: -4, gap: 16.6 },
  { row: 2, col: 0, x: 17.05, top: 48.3, bottom: 29.2, label: "17.0", dx: -18, gap: 14.7 },
  { row: 2, col: 0, x: 19.22, top: 89.6, bottom: 70.1, label: "19.8", dx: 1, gap: 13.3 },
  { row: 2, col: 0, x: 21.9, top: 75.7, bottom: 56.2, label: "22.2", dx: 8, gap: 11 },
  { row: 3, col: 0, x: 14.79, top: 62.0, bottom: 42.7, label: "14.8", dx: -16, gap: 16 },
  { row: 3, col: 0, x: 17.4, top: 79.4, bottom: 59.8, label: "16.6", dx: -1, gap: 18.3 },
  { row: 3, col: 1, x: 17.74, top: 81.7, bottom: 62.3, label: "17.7", dx: 2, gap: 19 },
  { row: 3, col: 2, x: 23.09, top: 82.5, bottom: 63.2, label: "22.6", dx: -1, gap: 18.7 },
];

// red dotted reference lines (x at top of top panel, x at bottom of bottom panel)
const refLines = [
  { col: 1, xTop: 4.87, xBottom: 5.43 },
  { col: 2, xTop: 4.78, xBottom: 5.78 },
];

// ---------- layout ----------
const FONT = '"Liberation Sans", Arial, Helvetica, sans-serif';
const colLeft = [62.3, 344.7, 627.3];
const colWidth = 282.5;
const rowTop = [60.7, 325.7, 590.7, 855.7];
const rowHeight = [265, 265, 265, 263.6];
const titleX = [175, 470, 752];
const labelRight = [328, 607, 898];
const rowLabelY = [99, 367.5, 626, 898.5];
const yTitleY = [211, 480, 745, 989];

function buildOption() {
  const grid: any[] = [];
  const xAxis: any[] = [];
  const yAxis: any[] = [];
  const series: any[] = [];
  for (let r = 0; r < 4; r++) {
    for (let c = 0; c < 3; c++) {
      const i = r * 3 + c;
      grid.push({
        left: colLeft[c], top: rowTop[r], width: colWidth, height: rowHeight[r],
        show: true, borderColor: "#000", borderWidth: 1.3, backgroundColor: "transparent",
      });
      xAxis.push({
        gridIndex: i, type: "value", min: xMin, max: xMax,
        axisLine: { show: true, onZero: false, lineStyle: { color: "#000", width: 1.3 } },
        axisTick: { show: true, inside: true, length: 6, customValues: xTickMarks, lineStyle: { color: "#000", width: 1 } },
        axisLabel: { show: r === 3, customValues: xTickLabels, color: "#000", fontSize: 25, fontFamily: FONT, margin: 8 },
        splitLine: { show: false },
      });
      yAxis.push({
        gridIndex: i, type: "value", min: yMin, max: yMax,
        axisLine: { show: true, onZero: false, lineStyle: { color: "#000", width: 1.3 } },
        axisTick: { show: true, inside: true, length: 6, customValues: yTickValues[r][c], lineStyle: { color: "#000", width: 1 } },
        axisLabel: { show: false },
        splitLine: { show: false },
      });
      series.push({
        type: "line", xAxisIndex: i, yAxisIndex: i, data: panelData[r][c],
        showSymbol: false, symbol: "none", silent: true, clip: true,
        lineStyle: { color: "#000", width: 1.2 },
      });
    }
  }
  return { animation: false, backgroundColor: "#fff", grid, xAxis, yAxis, series };
}

function buildGraphics(chart: any) {
  const g: any[] = [];
  // column titles and x titles
  columnTitles.forEach((t, c) => {
    g.push({ type: "text", x: titleX[c], y: 28, style: { text: t, fill: "#000", font: `bold 27px ${FONT}`, textAlign: "center", textVerticalAlign: "middle" } });
    g.push({ type: "text", x: colLeft[c] + colWidth / 2 + 1, y: 1187, style: { text: xAxisTitle, fill: "#000", font: `29px ${FONT}`, textAlign: "center", textVerticalAlign: "middle" } });
  });
  // y titles
  yTitleY.forEach((y) => {
    g.push({ type: "text", x: 28, y, rotation: Math.PI / 2, style: { text: yAxisTitle, fill: "#000", font: `26px ${FONT}`, textAlign: "center", textVerticalAlign: "middle" } });
  });
  // row labels
  for (let r = 0; r < 4; r++) {
    for (let c = 0; c < 3; c++) {
      if (rowLabels[r] === "t0") {
        const tx = labelRight[c] - 26;
        g.push({ type: "text", x: tx, y: rowLabelY[r], style: { text: "t", fill: "#000", font: `bold 30px ${FONT}`, textAlign: "left", textVerticalAlign: "middle" } });
        g.push({ type: "text", x: tx + 10, y: rowLabelY[r] + 10, style: { text: "0", fill: "#000", font: `bold 29px ${FONT}`, textAlign: "left", textVerticalAlign: "middle" } });
      } else {
        const right = rowLabels[r] === "MNS" ? labelRight[c] - 3 : labelRight[c];
        g.push({ type: "text", x: right, y: rowLabelY[r], style: { text: rowLabels[r], fill: "#000", font: `bold 26px ${FONT}`, textAlign: "right", textVerticalAlign: "middle" } });
      }
    }
  }
  // dotted reference lines
  refLines.forEach((d) => {
    const p1 = chart.convertToPixel({ gridIndex: d.col }, [d.xTop, yMax]);
    const p2 = chart.convertToPixel({ gridIndex: 9 + d.col }, [d.xBottom, yMin]);
    g.push({ type: "line", z: 50, shape: { x1: p1[0], y1: p1[1], x2: p2[0], y2: p2[1] }, style: { stroke: "#ff0000", lineWidth: 1.6, lineDash: [2, 3] } });
  });
  // peak annotations
  peakMarks.forEach((m) => {
    const gi = m.row * 3 + m.col;
    const pt = chart.convertToPixel({ gridIndex: gi }, [m.x, m.top]);
    const pb = chart.convertToPixel({ gridIndex: gi }, [m.x, m.bottom]);
    g.push({ type: "line", z: 50, shape: { x1: pt[0], y1: pt[1], x2: pb[0], y2: pb[1] }, style: { stroke: "#ff1a1a", lineWidth: 1.3 } });
    g.push({ type: "line", z: 50, shape: { x1: pt[0] - 14, y1: pt[1], x2: pt[0] + 14, y2: pt[1] }, style: { stroke: "#ff1a1a", lineWidth: 1.3 } });
    g.push({ type: "text", z: 50, x: pt[0] + m.dx, y: pt[1] - m.gap, style: { text: m.label, fill: "#ff0000", font: `24px ${FONT}`, textAlign: "center", textVerticalAlign: "middle" } });
  });
  return g;
}

export default function App() {
  const ref = useRef<HTMLDivElement>(null);
  useEffect(() => {
    if (!ref.current) return;
    const chart = echarts.init(ref.current, null, { renderer: "svg" });
    chart.setOption(buildOption());
    chart.setOption({ graphic: buildGraphics(chart) });
    return () => chart.dispose();
  }, []);
  return (
    <div
      ref={ref}
      style={{ position: "absolute", left: 0, top: 0, width: 902, height: 1205, background: "#fff", overflow: "hidden" }}
    />
  );
}
